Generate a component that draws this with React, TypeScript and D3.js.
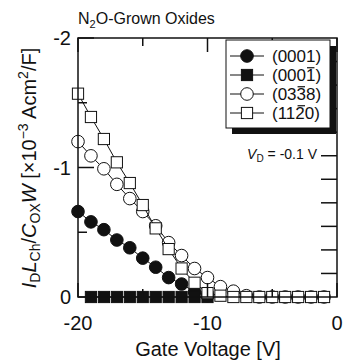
import React from "react";
import * as d3 from "d3";

const voltages = [-20, -19, -18, -17, -16, -15, -14, -13, -12, -11, -10, -9, -8, -7, -6, -5, -4, -3, -2, -1];
const v0001 = [-20, -19, -18, -17, -16, -15, -14, -13, -12, -11, -10];
const s0001 = [-0.66, -0.58, -0.52, -0.44, -0.38, -0.3, -0.23, -0.15, -0.1, -0.04, -0.01];
const v0001bar = [-19, -18, -17, -16, -15, -14, -13, -12, -11, -10];
const s0001bar = [0, 0, 0, 0, 0, 0, 0, 0, 0, 0];
const s0338 = [-1.2, -1.09, -0.99, -0.87, -0.76, -0.66, -0.55, -0.42, -0.32, -0.22, -0.15, -0.08, -0.045, -0.01, 0, 0, 0, 0, 0, 0];
const s1120 = [-1.57, -1.39, -1.22, -1.04, -0.88, -0.71, -0.53, -0.37, -0.22, -0.11, -0.03, -0.01, 0, 0, 0, 0, 0, 0, 0, 0];

const xMajor = [-20, -10, 0];
const xMinor = [-15, -5];
const yMajor = [-2, -1, 0];
const yMinor = [-1.5, -0.5];
const rightTicks = [-2 / 11, -4 / 11, -6 / 11, -8 / 11, -10 / 11, -12 / 11, -14 / 11, -16 / 11, -18 / 11, -20 / 11];
const xTickLabels = ["-20", "-10", "0"];
const yTickLabels = ["-2", "-1", "0"];

const legendItems = [
  { label: "(0001)", bar: -1, marker: "circle", fill: "#111" },
  { label: "(0001)", bar: 3, marker: "square", fill: "#111" },
  { label: "(0338)", bar: 2, marker: "circle", fill: "#fff" },
  { label: "(1120)", bar: 2, marker: "square", fill: "#fff" },
];

const FONT = "'Liberation Sans', Arial, Helvetica, sans-serif";

const x = d3.scaleLinear().domain([-20, 0]).range([78, 337]);
const y = d3.scaleLinear().domain([-2, 0]).range([38, 297]);

type Pt = [number, number];

function Marker({ kind, cx, cy, fill }: { kind: string; cx: number; cy: number; fill: string }) {
  const s = 11.2;
  if (kind === "circle") return <circle cx={cx} cy={cy} r={6.3} fill={fill} stroke="#111" strokeWidth={1} />;
  return <rect x={cx - s / 2} y={cy - s / 2} width={s} height={s} fill={fill} stroke="#111" strokeWidth={1} />;
}

function Series({ xs, ys, kind, fill }: { xs: number[]; ys: number[]; kind: string; fill: string }) {
  const pts: Pt[] = xs.map((v, i) => [x(v), y(ys[i])]);
  const line = d3.line<Pt>().x((d) => d[0]).y((d) => d[1]);
  return (
    <g>
      <path d={line(pts) || ""} fill="none" stroke="#111" strokeWidth={1} />
      {pts.map((p, i) => (
        <Marker key={i} kind={kind} cx={p[0]} cy={p[1]} fill={fill} />
      ))}
    </g>
  );
}

export default function App() {
  const legX = 226, legY = 40, legW = 104, legH = 88;
  const rowY = [56, 75, 94, 113];
  const lfs = 17;
  const textX = 272;
  return (
    <svg width={347} height={360} style={{ position: "absolute", left: 0, top: 0, background: "#fff" }} fontFamily={FONT}>
      <rect x={0} y={0} width={347} height={360} fill="#fff" />
      {/* title */}
      <text x={78} y={24} fontSize={16} fill="#111">
        <tspan>N</tspan>
        <tspan fontSize={11} dy={4}>2</tspan>
        <tspan dy={-4}>O-Grown Oxides</tspan>
      </text>

      {/* series */}
      <Series xs={v0001} ys={s0001} kind="circle" fill="#111" />
      <Series xs={v0001bar} ys={s0001bar} kind="square" fill="#111" />
      <Series xs={voltages} ys={s0338} kind="circle" fill="#fff" />
      <Series xs={voltages} ys={s1120} kind="square" fill="#fff" />

      {/* frame */}
      <rect x={x(-20)} y={y(-2)} width={x(0) - x(-20)} height={y(0) - y(-2)} fill="none" stroke="#111" strokeWidth={1.5} />
      {/* x ticks */}
      {xMajor.map((v) => (
        <g key={"xm" + v}>
          <line x1={x(v)} x2={x(v)} y1={y(0)} y2={y(0) - 14} stroke="#111" strokeWidth={1.5} />
          <line x1={x(v)} x2={x(v)} y1={y(-2)} y2={y(-2) + 14} stroke="#111" strokeWidth={1.5} />
        </g>
      ))}
      {xMinor.map((v) => (
        <g key={"xn" + v}>
          <line x1={x(v)} x2={x(v)} y1={y(0)} y2={y(0) - 8} stroke="#111" strokeWidth={1.5} />
          <line x1={x(v)} x2={x(v)} y1={y(-2)} y2={y(-2) + 8} stroke="#111" strokeWidth={1.5} />
        </g>
      ))}
      {yMajor.map((v) => (
        <line key={"ym" + v} x1={x(-20)} x2={x(-20) + 16} y1={y(v)} y2={y(v)} stroke="#111" strokeWidth={1.5} />
      ))}
      {yMinor.map((v) => (
        <line key={"yn" + v} x1={x(-20)} x2={x(-20) + 9} y1={y(v)} y2={y(v)} stroke="#111" strokeWidth={1.5} />
      ))}
      {rightTicks.map((v, i) => (
        <line key={"rt" + i} x1={x(0) - 16} x2={x(0)} y1={y(v)} y2={y(v)} stroke="#111" strokeWidth={1.5} />
      ))}

      {/* tick labels */}
      {xMajor.map((v, i) => (
        <text key={"xl" + v} x={x(v)} y={330} fontSize={20} textAnchor="middle" fill="#111">
          {xTickLabels[i]}
        </text>
      ))}
      {yMajor.map((v, i) => (
        <text key={"yl" + v} x={71} y={y(v) + 7} fontSize={20} textAnchor="end" fill="#111">
          {yTickLabels[i]}
        </text>
      ))}

      {/* x title */}
      <text x={208} y={356} fontSize={20} textAnchor="middle" fill="#111">
        Gate Voltage [V]
      </text>

      {/* y title */}
      <text transform="translate(36,168) rotate(-90)" fontSize={20} textAnchor="middle" fill="#111">
        <tspan fontStyle="italic">I</tspan>
        <tspan fontSize={14} dy={4}>D</tspan>
        <tspan fontStyle="italic" dy={-4}>L</tspan>
        <tspan fontSize={14} dy={4}>Ch</tspan>
        <tspan dy={-4}>/</tspan>
        <tspan fontStyle="italic">C</tspan>
        <tspan fontSize={14} dy={4}>OX</tspan>
        <tspan fontStyle="italic" dy={-4}>W</tspan>
        <tspan> [×10</tspan>
        <tspan fontSize={14} dy={-8}>−3</tspan>
        <tspan dy={8}> Acm</tspan>
        <tspan fontSize={14} dy={-8}>2</tspan>
        <tspan dy={8}>/F]</tspan>
      </text>

      {/* legend */}
      <rect x={legX + 6} y={legY + 6} width={legW} height={legH} fill="#111" />
      <rect x={legX} y={legY} width={legW} height={legH} fill="#fff" stroke="#111" strokeWidth={1} />
      {legendItems.map((it, i) => {
        const cy = rowY[i];
        const charW = 0.556 * lfs;
        const parW = 0.333 * lfs;
        const bx = textX + parW + it.bar * charW;
        return (
          <g key={"lg" + i}>
            <line x1={230} x2={264} y1={cy} y2={cy} stroke="#111" strokeWidth={1} />
            <Marker kind={it.marker} cx={247} cy={cy} fill={it.fill} />
            <text x={textX} y={cy + 6} fontSize={lfs} fill="#111">
              {it.label}
            </text>
            {it.bar >= 0 && (
              <line x1={bx + 1} x2={bx + charW - 1} y1={cy + 6 - 0.78 * lfs} y2={cy + 6 - 0.78 * lfs} stroke="#111" strokeWidth={1.2} />
            )}
          </g>
        );
      })}

      {/* V_D annotation */}
      <text x={317} y={159} fontSize={14} textAnchor="end" fill="#111">
        <tspan fontStyle="italic">V</tspan>
        <tspan fontSize={10} dy={3}>D</tspan>
        <tspan dy={-3}> = -0.1 V</tspan>
      </text>
    </svg>
  );
}
